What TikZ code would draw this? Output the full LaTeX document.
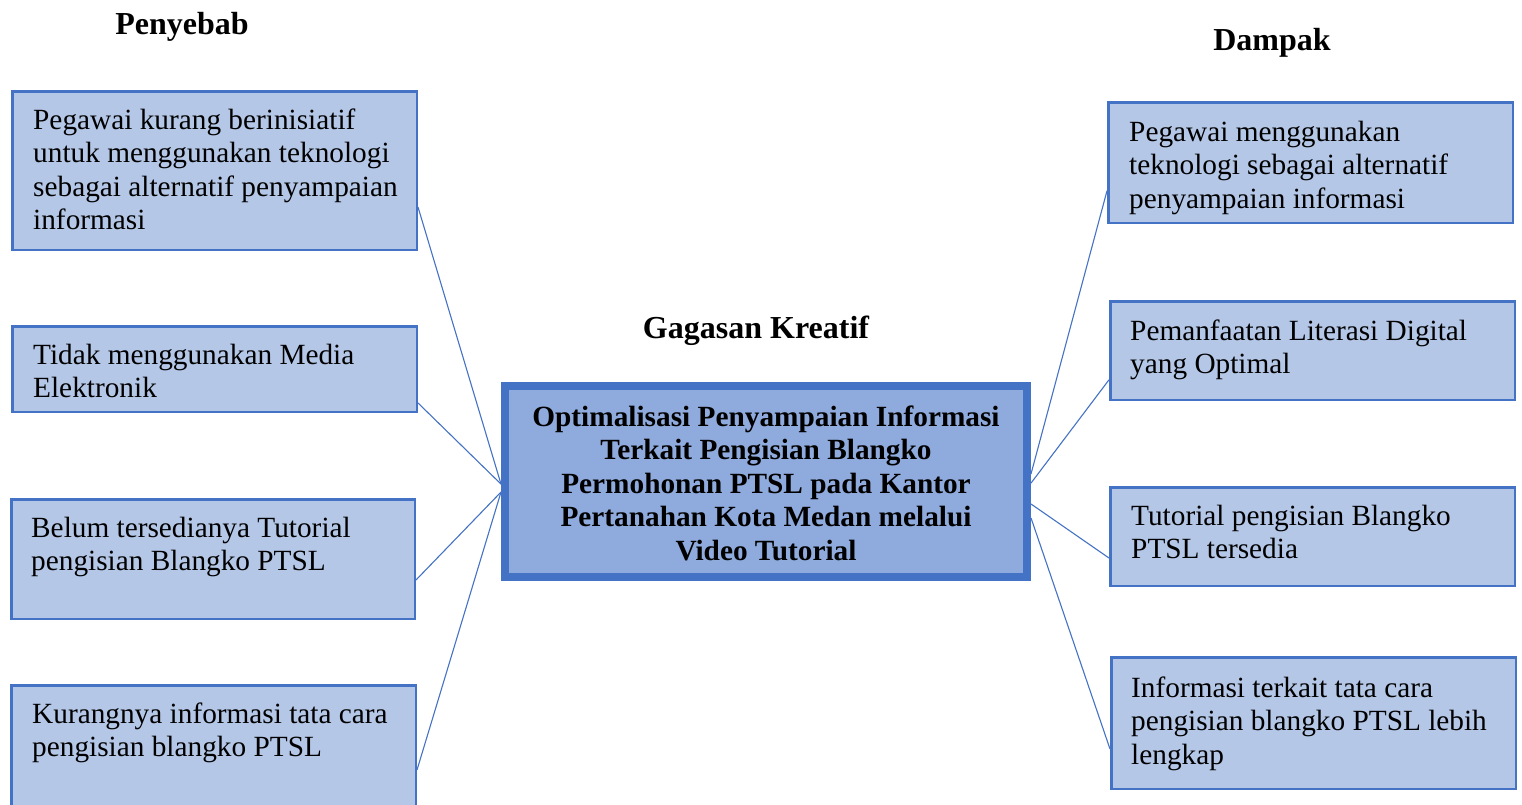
\documentclass[tikz,border=0pt]{standalone}
\usepackage{fontspec}
\setmainfont{Liberation Serif}
\usetikzlibrary{calc}
\definecolor{boxfill}{RGB}{180,199,231}
\definecolor{boxline}{RGB}{68,114,196}
\definecolor{centerfill}{RGB}{143,170,220}
\newcommand\leftlines[1]{\vtop{\halign{##\hfil\cr#1\crcr}}}
\newcommand\centerlines[1]{\vtop{\halign{\hfil##\hfil\cr#1\crcr}}}
\tikzset{
  cbox/.style={draw=boxline, fill=boxfill, line width=2.5pt, rectangle, inner sep=0pt, anchor=north west},
  mainbox/.style={draw=boxline, fill=centerfill, line width=8pt, rectangle, inner sep=0pt, anchor=north west},
  btext/.style={anchor=base west, inner sep=0pt, font=\fontsize{29.3}{33.5}\selectfont},
  ctext/.style={anchor=base, inner sep=0pt, font=\fontsize{29.3}{33.5}\selectfont\bfseries},
  heading/.style={anchor=base, inner sep=0pt, font=\fontsize{32}{36}\selectfont\bfseries},
  link/.style={draw=boxline, line width=1.1pt}
}
\begin{document}
\begin{tikzpicture}[x=1pt,y=-1pt]
\useasboundingbox (0,0) rectangle (1522,804);
% headings
\node[heading] (hpen) at (182,34) {Penyebab};
\node[heading] (hdam) at (1272,50) {Dampak};
\node[heading] (hgag) at (756,338) {Gagasan Kreatif};
% boxes
\node[cbox, minimum width=404.5pt, minimum height=158.5pt] (L1) at (11,90) {};
\node[cbox, minimum width=404.5pt, minimum height=85.5pt] (L2) at (11,325) {};
\node[cbox, minimum width=403.5pt, minimum height=119.5pt] (L3) at (10,498) {};
\node[cbox, minimum width=404.5pt, minimum height=122pt] (L4) at (10,684) {};
\node[cbox, minimum width=404.5pt, minimum height=120.5pt] (R1) at (1107,101) {};
\node[cbox, minimum width=404.5pt, minimum height=98.5pt] (R2) at (1109,300) {};
\node[cbox, minimum width=404.5pt, minimum height=98.5pt] (R3) at (1109,486) {};
\node[cbox, minimum width=404.5pt, minimum height=131.5pt] (R4) at (1110,656) {};
\node[mainbox, minimum width=522pt, minimum height=191pt] (C) at (501,382) {};
% texts
\node[btext] (L1t) at (33,129) {\leftlines{Pegawai kurang berinisiatif\cr untuk menggunakan teknologi\cr sebagai alternatif penyampaian\cr informasi}};
\node[btext] (L2t) at (33,364) {\leftlines{Tidak menggunakan Media\cr Elektronik}};
\node[btext] (L3t) at (31,537) {\leftlines{Belum tersedianya Tutorial\cr pengisian Blangko PTSL}};
\node[btext] (L4t) at (32,723) {\leftlines{Kurangnya informasi tata cara\cr pengisian blangko PTSL}};
\node[btext] (R1t) at (1129,141) {\leftlines{Pegawai menggunakan\cr teknologi sebagai alternatif\cr penyampaian informasi}};
\node[btext] (R2t) at (1130,340) {\leftlines{Pemanfaatan Literasi Digital\cr yang Optimal}};
\node[btext] (R3t) at (1131,525) {\leftlines{Tutorial pengisian Blangko\cr PTSL tersedia}};
\node[btext] (R4t) at (1131,697) {\leftlines{Informasi terkait tata cara\cr pengisian blangko PTSL lebih\cr lengkap}};
\node[ctext] (Ct) at (766,426) {\centerlines{Optimalisasi Penyampaian Informasi\cr Terkait Pengisian Blangko\cr Permohonan PTSL pada Kantor\cr Pertanahan Kota Medan melalui\cr Video Tutorial}};
% connectors
\draw[link] ($(L1.north east)!0.727!(L1.south east)$) -- ($(C.north west)!0.513!(C.south west)$);
\draw[link] ($(L2.north east)!0.886!(L2.south east)$) -- ($(C.north west)!0.513!(C.south west)$);
\draw[link] ($(L3.north east)!0.672!(L3.south east)$) -- ($(C.north west)!0.553!(C.south west)$);
\draw[link] ($(L4.north east)!0.69!(L4.south east)$) -- ($(C.north west)!0.553!(C.south west)$);
\draw[link] ($(C.north east)!0.462!(C.south east)$) -- ($(R1.north west)!0.73!(R1.south west)$);
\draw[link] ($(C.north east)!0.508!(C.south east)$) -- ($(R2.north west)!0.79!(R2.south west)$);
\draw[link] ($(C.north east)!0.613!(C.south east)$) -- ($(R3.north west)!0.713!(R3.south west)$);
\draw[link] ($(C.north east)!0.683!(C.south east)$) -- ($(R4.north west)!0.694!(R4.south west)$);
\end{tikzpicture}
\end{document}
